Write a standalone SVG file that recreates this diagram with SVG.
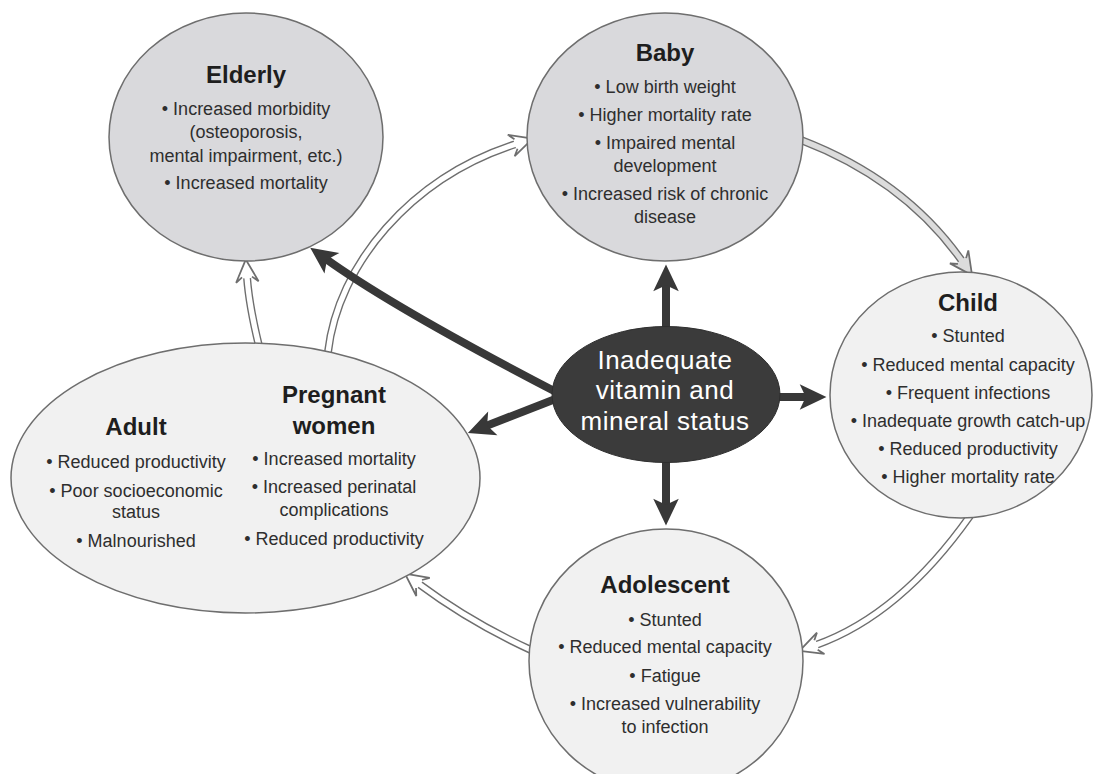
<svg xmlns="http://www.w3.org/2000/svg" width="1097" height="774" viewBox="0 0 1097 774">
<style>
.bg{fill:#ffffff}
.dark-node{fill:#d9d9dc;stroke:#6e6e6e;stroke-width:1.5}
.light-node{fill:#f1f1f1;stroke:#6e6e6e;stroke-width:1.5}
.core{fill:#3b3b3b;stroke:#2e2e2e;stroke-width:1}
.title{font-family:"Liberation Sans",Arial,sans-serif;font-weight:bold;font-size:24px;fill:#1e1e1e;text-anchor:middle}
.item{font-family:"Liberation Sans",Arial,sans-serif;font-size:18px;fill:#2e2e2e;text-anchor:middle}
.core-text{font-family:"Liberation Sans",Arial,sans-serif;font-size:26px;letter-spacing:0.5px;fill:#ffffff;text-anchor:middle}
.shaft-out{fill:none;stroke:#6e6e6e;stroke-width:8}
.shaft-in{fill:none;stroke:#ffffff;stroke-width:5.2}
.shaft-in-gray{fill:none;stroke:#dcdcdc;stroke-width:5.2}
.dark{fill:none;stroke:#383838;stroke-width:8}
</style>
<defs>
<marker id="hollow" markerUnits="userSpaceOnUse" markerWidth="30" markerHeight="30" viewBox="-6 -12 24 24" refX="0" refY="0" orient="auto">
<polygon points="14,0 -4,9 0,4 -1,4 -1,-4 0,-4 -4,-9" fill="#ffffff"/>
<polyline points="0,4 -4,9 14,0 -4,-9 0,-4" fill="none" stroke="#6e6e6e" stroke-width="1.4" stroke-linejoin="miter"/>
</marker>
<marker id="hollow-gray" markerUnits="userSpaceOnUse" markerWidth="30" markerHeight="30" viewBox="-6 -12 24 24" refX="0" refY="0" orient="auto">
<polygon points="14,0 -4,9 0,4 -1,4 -1,-4 0,-4 -4,-9" fill="#dcdcdc"/>
<polyline points="0,4 -4,9 14,0 -4,-9 0,-4" fill="none" stroke="#6e6e6e" stroke-width="1.4" stroke-linejoin="miter"/>
</marker>
<marker id="solid" markerUnits="userSpaceOnUse" markerWidth="34" markerHeight="34" viewBox="-8 -14 28 28" refX="0" refY="0" orient="auto">
<polygon points="16,0 -6,-10.5 -1,0 -6,10.5" fill="#383838"/>
</marker>
</defs>
<rect class="bg" x="0" y="0" width="1097" height="774"/>

<g id="connectors">
  <!-- hollow life-cycle arrows -->
  <path class="shaft-out" d="M801,140 Q905,180 962,261"/>
  <path class="shaft-in-gray" d="M801,140 Q905,180 962,261" marker-end="url(#hollow-gray)"/>
  <path class="shaft-out" d="M970,516 Q900,615 816,645"/>
  <path class="shaft-in" d="M970,516 Q900,615 816,645" marker-end="url(#hollow)"/>
  <path class="shaft-out" d="M531,650 Q470,622 419,584"/>
  <path class="shaft-in" d="M531,650 Q470,622 419,584" marker-end="url(#hollow)"/>
  <path class="shaft-out" d="M259,346 Q249,305 247,277"/>
  <path class="shaft-in" d="M259,346 Q249,305 247,277" marker-end="url(#hollow)"/>
  <path class="shaft-out" d="M328,352 C338,265 410,178 516,144"/>
  <path class="shaft-in" d="M328,352 C338,265 410,178 516,144" marker-end="url(#hollow)"/>
  <!-- dark arrows from the core -->
  <path class="dark" d="M558,393 Q395,308.5 326,259" marker-end="url(#solid)"/>
  <path class="dark" d="M558,398 L486,426" marker-end="url(#solid)"/>
  <path class="dark" d="M666,330 L666,284" marker-end="url(#solid)"/>
  <path class="dark" d="M666,459 L666,506" marker-end="url(#solid)"/>
  <path class="dark" d="M776,397 L807,397" marker-end="url(#solid)"/>
</g>

<g id="node-elderly">
  <ellipse class="dark-node" cx="246" cy="137" rx="137" ry="124"/>
  <text class="title" x="246" y="83">Elderly</text>
  <text class="item" x="246" y="115">• Increased morbidity</text>
  <text class="item" x="246" y="138">(osteoporosis,</text>
  <text class="item" x="246" y="162">mental impairment, etc.)</text>
  <text class="item" x="246" y="189">• Increased mortality</text>
</g>

<g id="node-baby">
  <ellipse class="dark-node" cx="665" cy="137" rx="138" ry="124"/>
  <text class="title" x="665" y="61">Baby</text>
  <text class="item" x="665" y="93">• Low birth weight</text>
  <text class="item" x="665" y="121">• Higher mortality rate</text>
  <text class="item" x="665" y="149">• Impaired mental</text>
  <text class="item" x="665" y="172">development</text>
  <text class="item" x="665" y="200">• Increased risk of chronic</text>
  <text class="item" x="665" y="223">disease</text>
</g>

<g id="node-child">
  <ellipse class="light-node" cx="961" cy="395" rx="131" ry="123"/>
  <text class="title" x="968" y="311">Child</text>
  <text class="item" x="968" y="342">• Stunted</text>
  <text class="item" x="968" y="371">• Reduced mental capacity</text>
  <text class="item" x="968" y="399">• Frequent infections</text>
  <text class="item" x="968" y="427">• Inadequate growth catch-up</text>
  <text class="item" x="968" y="455">• Reduced productivity</text>
  <text class="item" x="968" y="483">• Higher mortality rate</text>
</g>

<g id="node-adolescent">
  <ellipse class="light-node" cx="666" cy="661" rx="137" ry="132"/>
  <text class="title" x="665" y="593">Adolescent</text>
  <text class="item" x="665" y="626">• Stunted</text>
  <text class="item" x="665" y="653">• Reduced mental capacity</text>
  <text class="item" x="665" y="682">• Fatigue</text>
  <text class="item" x="665" y="710">• Increased vulnerability</text>
  <text class="item" x="665" y="733">to infection</text>
</g>

<g id="node-adult-pregnant">
  <ellipse class="light-node" cx="245.5" cy="478" rx="234.5" ry="135"/>
  <text class="title" x="136" y="435">Adult</text>
  <text class="item" x="136" y="468">• Reduced productivity</text>
  <text class="item" x="136" y="497">• Poor socioeconomic</text>
  <text class="item" x="136" y="518">status</text>
  <text class="item" x="136" y="547">• Malnourished</text>
  <text class="title" x="334" y="403">Pregnant</text>
  <text class="title" x="334" y="434">women</text>
  <text class="item" x="334" y="465">• Increased mortality</text>
  <text class="item" x="334" y="493">• Increased perinatal</text>
  <text class="item" x="334" y="516">complications</text>
  <text class="item" x="334" y="545">• Reduced productivity</text>
</g>

<g id="node-core">
  <ellipse class="core" cx="666" cy="394.5" rx="114" ry="68"/>
  <text class="core-text" x="665" y="369">Inadequate</text>
  <text class="core-text" x="665" y="399">vitamin and</text>
  <text class="core-text" x="665" y="430">mineral status</text>
</g>
</svg>
